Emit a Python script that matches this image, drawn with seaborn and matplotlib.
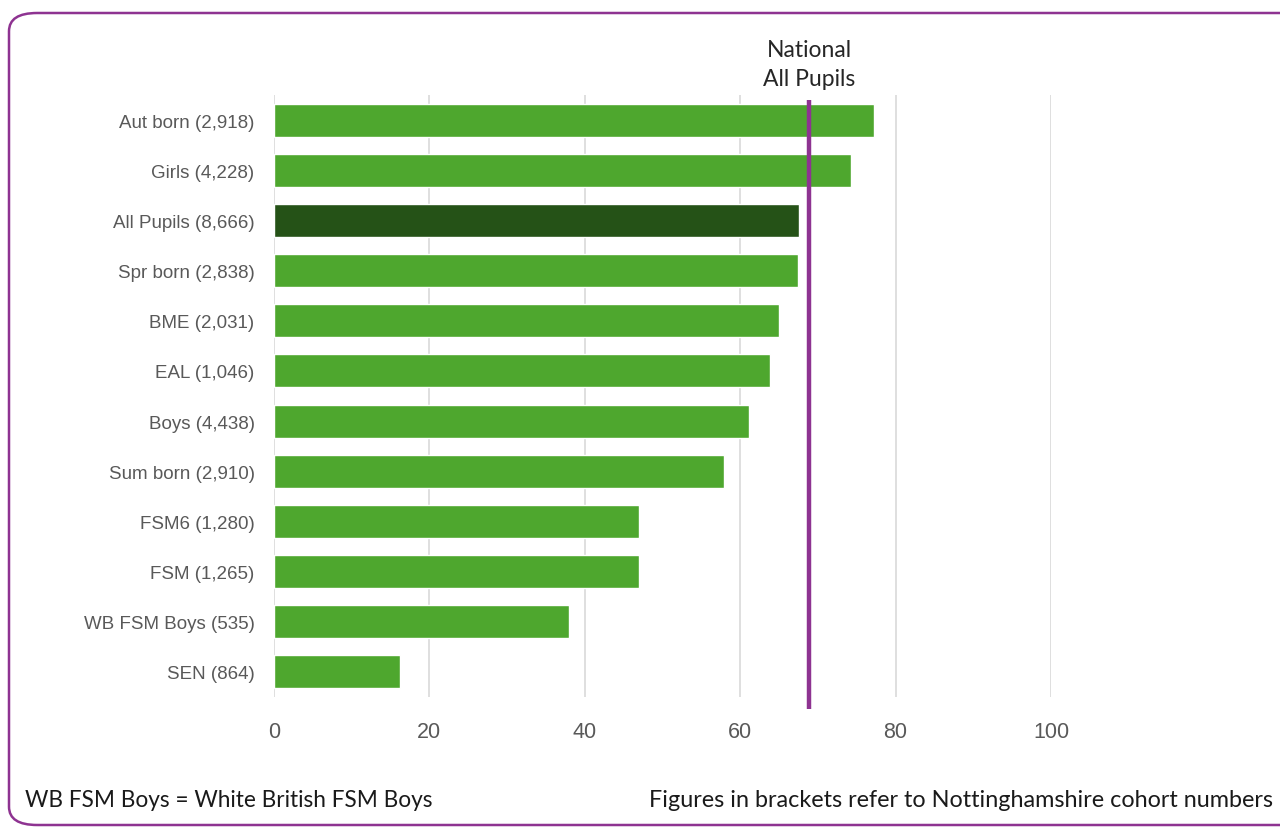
import matplotlib
matplotlib.use("Agg")
import matplotlib.pyplot as plt
import seaborn as sns
import pandas as pd
from matplotlib.patches import FancyBboxPatch
import matplotlib.transforms as mtransforms

categories = ["Aut born (2,918)", "Girls (4,228)", "All Pupils (8,666)", "Spr born (2,838)",
              "BME (2,031)", "EAL (1,046)", "Boys (4,438)", "Sum born (2,910)",
              "FSM6 (1,280)", "FSM (1,265)", "WB FSM Boys (535)", "SEN (864)"]
values = [77.2, 74.3, 67.6, 67.4, 65.0, 63.8, 61.1, 57.9, 47.0, 47.0, 38.0, 16.2]
national = 68.9
xticks = [0, 20, 40, 60, 80, 100]

green = "#4EA72E"
dark = "#255217"
colors = [dark if c.startswith("All Pupils") else green for c in categories]

df = pd.DataFrame({"cat": categories, "val": values})

sns.set_theme(style="white")
fig = plt.figure(figsize=(12.8, 8.28), dpi=100)
ax = fig.add_axes([274/1280, 1-698/828, (1051-274)/1280, (698-96)/828])

sns.barplot(data=df, x="val", y="cat", hue="cat", palette=colors, legend=False,
            width=0.66, ax=ax, saturation=1)

ax.set_xlim(0, 100)
ax.set_ylim(11.5, -0.5)
ax.set_xticks(xticks)
ax.set_xlabel("")
ax.set_ylabel("")
ax.xaxis.grid(True, color="#D9D9D9", linewidth=1.2)
ax.set_axisbelow(True)
for s in ax.spines.values():
    s.set_visible(False)
ax.tick_params(axis="y", length=0, pad=14, labelsize=13.5, labelcolor="#595959")
ax.tick_params(axis="x", length=0, pad=17, labelsize=15.5, labelcolor="#595959")
for t in ax.get_yticklabels() + ax.get_xticklabels():
    t.set_fontfamily("Liberation Sans")

trans = mtransforms.blended_transform_factory(ax.transData, ax.transAxes)
ax.plot([national, national], [-12/602, (698-101)/602], transform=trans,
        color="#8E3391", linewidth=3.2, clip_on=False, solid_capstyle="butt", zorder=5)
ax.text(national, (698-65)/602, "National\nAll Pupils", transform=trans, ha="center", va="center",
        fontsize=16.5, fontfamily="Lato", color="#262626", linespacing=1.45)

fig.text(25/1280, 1-801/828, "WB FSM Boys = White British FSM Boys", ha="left", va="center",
         fontsize=16.3, fontfamily="Lato", color="#1a1a1a")
fig.text(1273/1280, 1-801/828, "Figures in brackets refer to Nottinghamshire cohort numbers",
         ha="right", va="center", fontsize=16.8, fontfamily="Lato", color="#1a1a1a")

border = FancyBboxPatch((9/1280, 1-826/828), 1.2, (826-14)/828,
                        boxstyle="round,pad=0,rounding_size=0.022",
                        transform=fig.transFigure, fill=False, edgecolor="#8E3391",
                        linewidth=1.8, clip_on=False)
fig.patches.append(border)

fig.savefig("out.png", dpi=100)
